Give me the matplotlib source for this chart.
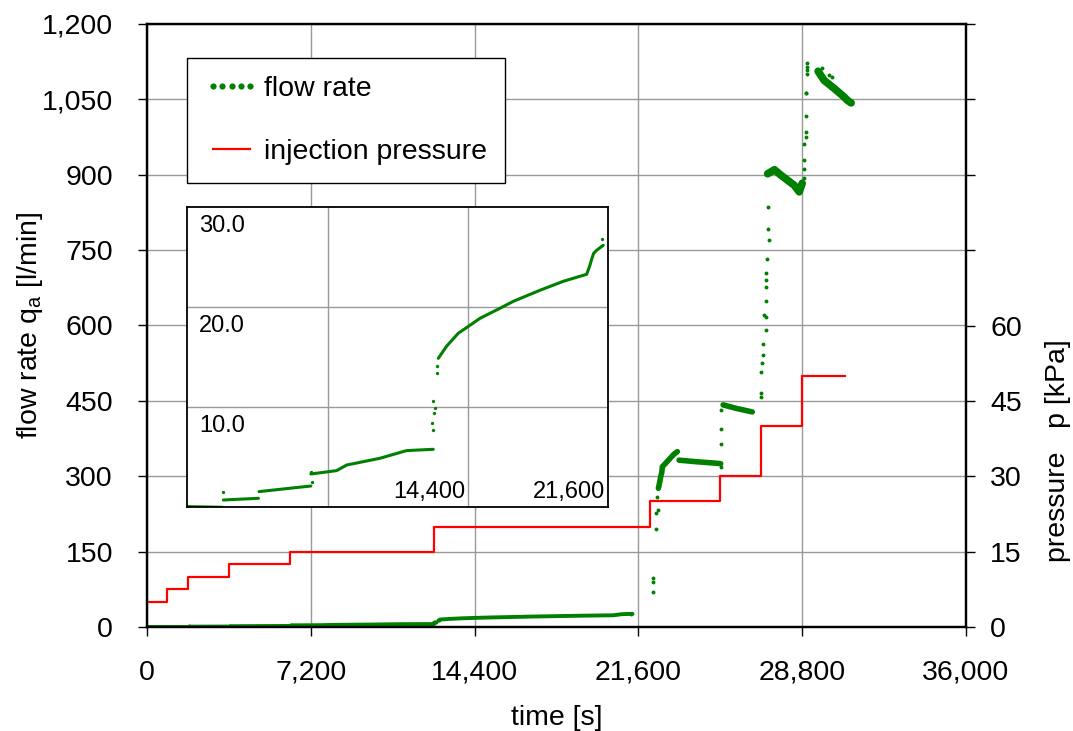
import matplotlib
matplotlib.use('Agg')
import matplotlib.pyplot as plt
import numpy as np

plt.rcParams['font.family'] = ['Liberation Sans', 'DejaVu Sans']
plt.rcParams['mathtext.fontset'] = 'custom'
plt.rcParams['mathtext.rm'] = 'Liberation Sans'

nan = np.nan

# injection pressure [kPa], step edges in s
p_edges = [0, 900, 1800, 3600, 6300, 12600, 22100, 25200, 27000, 28800, 30700]
p_levels = [5, 7.5, 10, 12.5, 15, 20, 25, 30, 40, 50]

# flow rate, low part (also shown in the inset), nan separates pieces
low_t = [0, 1800, nan, 1850, 3650, nan, 3680, 6340, nan,
         6340, 7660, 8180, 9880, 11250, 12620, nan,
         12880, 13300, 13900, 14500, 15020, 16040, 16730, 18090, 19290, 20490,
         20640, 20760, 20850, 21000, 21340]
low_q = [0.07, 0.0, nan, 0.73, 0.9, nan, 1.57, 2.13, nan,
         3.33, 3.67, 4.23, 4.9, 5.67, 5.8, nan,
         14.9, 16.1, 17.4, 18.2, 18.9, 19.9, 20.6, 21.7, 22.6, 23.3,
         24.1, 24.9, 25.4, 25.7, 26.2]
low_dot_t = [1850, 6340, 6400, 12570, 12620, 12655, 12706, 12620, 12790, 12830, 21260]
low_dot_q = [1.5, 3.57, 2.57, 8.4, 7.7, 9.4, 9.9, 10.6, 13.4, 14.1, 26.8]

# flow rate, high part
high_t = [22478, 22540, 22583, 22627, 22653, 22800, 23020, 23165, 23312, nan,
          23387, 24119, 24997, 25217, nan,
          25324, 25909, 26605]
high_q = [276, 289, 300, 307, 319, 326, 337, 344, 349, nan,
          332, 329, 326, 325, nan,
          442, 435, 428]
peak_t = [27282, 27580, 27870, 28160, 28450, 28670, 28800, nan,
          29500, 29760, 30200, 30640, 30790, 30950]
peak_q = [902, 910, 899, 889, 879, 866, 883, nan,
          1106, 1088, 1072, 1055, 1048, 1043]
jump_t = [22224, 22224, 22224, 22363, 22380, 22450, 22434,
          25217, 25243, 25243, 25250,
          26973, 26973, 27000, 27040, 27090, 27090, 27210, 27200, 27130, 27200,
          27210, 27200, 27210, 27240, 27333, 27300, 27310,
          28864, 28900, 28900, 28900, 28970, 28970, 28970, 28970, 29010, 29010,
          29010, 29010, 28950, 29990, 29650, 30100]
jump_q = [97, 90, 69, 195, 226, 233, 259,
          318, 365, 395, 432,
          465, 458, 508, 525, 541, 564, 592, 617, 621, 649,
          677, 690, 705, 733, 770, 793, 836,
          893, 912, 929, 962, 975, 985, 1017, 1062, 1100, 1108,
          1115, 1122, 1062, 1098, 1112, 1095]

x_ticks = [0, 7200, 14400, 21600, 28800, 36000]
y_ticks = [0, 150, 300, 450, 600, 750, 900, 1050, 1200]
p_ticks = [0, 15, 30, 45, 60, 75, 90, 105, 120]
p_labels = ['0', '15', '30', '45', '60', '', '', '', '']
inset_x_labels = [14400, 21600]
inset_y_labels = [10, 20, 30]

green = '#008000'
red = '#ff0000'
fs = 20.5

fig = plt.figure(figsize=(10.73, 7.31), dpi=100)
ax = fig.add_axes([147 / 1073, 1 - 627 / 731, 819 / 1073, 603 / 731])
ax2 = ax.twinx()

ax.plot(low_t, low_q, color=green, lw=2.8, solid_capstyle='round')
ax.plot(high_t, high_q, color=green, lw=4.0, solid_capstyle='round')
ax.plot(peak_t, peak_q, color=green, lw=5.5, solid_capstyle='round')
h_flow, = ax.plot(jump_t, jump_q, 'o', color=green, ms=2.8, mew=0, label='flow rate')
ax.plot(low_dot_t, low_dot_q, 'o', color=green, ms=2.8, mew=0)

h_p, = ax2.step(p_edges, p_levels + [p_levels[-1]], where='post', color=red, lw=1.6,
                label='injection pressure')

ax.set_xlim(0, 36000)
ax.set_ylim(0, 1200)
ax2.set_ylim(0, 120)
ax.set_xticks(x_ticks)
ax.set_xticklabels([f'{v:,}' for v in x_ticks])
ax.set_yticks(y_ticks)
ax.set_yticklabels([f'{v:,}' for v in y_ticks])
ax2.set_yticks(p_ticks)
ax2.set_yticklabels(p_labels)

ax.grid(True, color='#999999', lw=1)
for a in (ax, ax2):
    for s in a.spines.values():
        s.set_linewidth(1.6)
        s.set_color('black')
ax.tick_params(axis='both', direction='out', length=6.5, width=1, labelsize=fs)
ax.tick_params(axis='y', pad=18)
ax.tick_params(axis='x', pad=17)
ax2.tick_params(axis='y', direction='out', length=6.5, width=1, labelsize=fs, pad=11)

ax.set_xlabel('time [s]', fontsize=fs, labelpad=14)
ax.set_ylabel(r'flow rate q$_{\mathregular{a}}$ [l/min]', fontsize=fs)
ax.yaxis.set_label_coords(-0.125, 0.5)
ax2.set_ylabel('pressure   p [kPa]', fontsize=fs)
ax2.yaxis.set_label_coords(1.097, 0.292)

leg = ax2.legend(handles=[h_flow, h_p], loc='upper left', bbox_to_anchor=(0.0488, 0.9436),
                 borderaxespad=0, fancybox=False, edgecolor='black', framealpha=1,
                 fontsize=fs, handlelength=1.9, handletextpad=0.2, labelspacing=1.32,
                 borderpad=0.62, numpoints=5, markerscale=1.6)
leg.get_frame().set_linewidth(1.0)

# inset
axi = fig.add_axes([187.3 / 1073, 1 - 507.3 / 731, 421 / 1073, 300 / 731])
axi.set_facecolor('white')
axi.plot(low_t, low_q, color=green, lw=2.2, solid_capstyle='round')
axi.plot(low_dot_t, low_dot_q, 'o', color=green, ms=2.4, mew=0)
axi.set_xlim(0, 21600)
axi.set_ylim(0, 30)
axi.set_xticks([7200, 14400])
axi.set_yticks([10, 20])
axi.tick_params(length=0, labelbottom=False, labelleft=False)
axi.grid(True, color='#999999', lw=1)
for s in axi.spines.values():
    s.set_linewidth(1.3)
    s.set_color('black')
for v in inset_y_labels:
    axi.annotate(f'{v:.1f}', xy=(0, v), xycoords=('axes fraction', 'data'),
                 xytext=(12, -19), textcoords='offset pixels', va='center', ha='left',
                 fontsize=17)
for v in inset_x_labels:
    axi.annotate(f'{v:,}', xy=(v, 0), xycoords=('data', 'axes fraction'),
                 xytext=(-3, 15), textcoords='offset pixels', va='center', ha='right',
                 fontsize=17)

fig.savefig('out.png', dpi=100)
